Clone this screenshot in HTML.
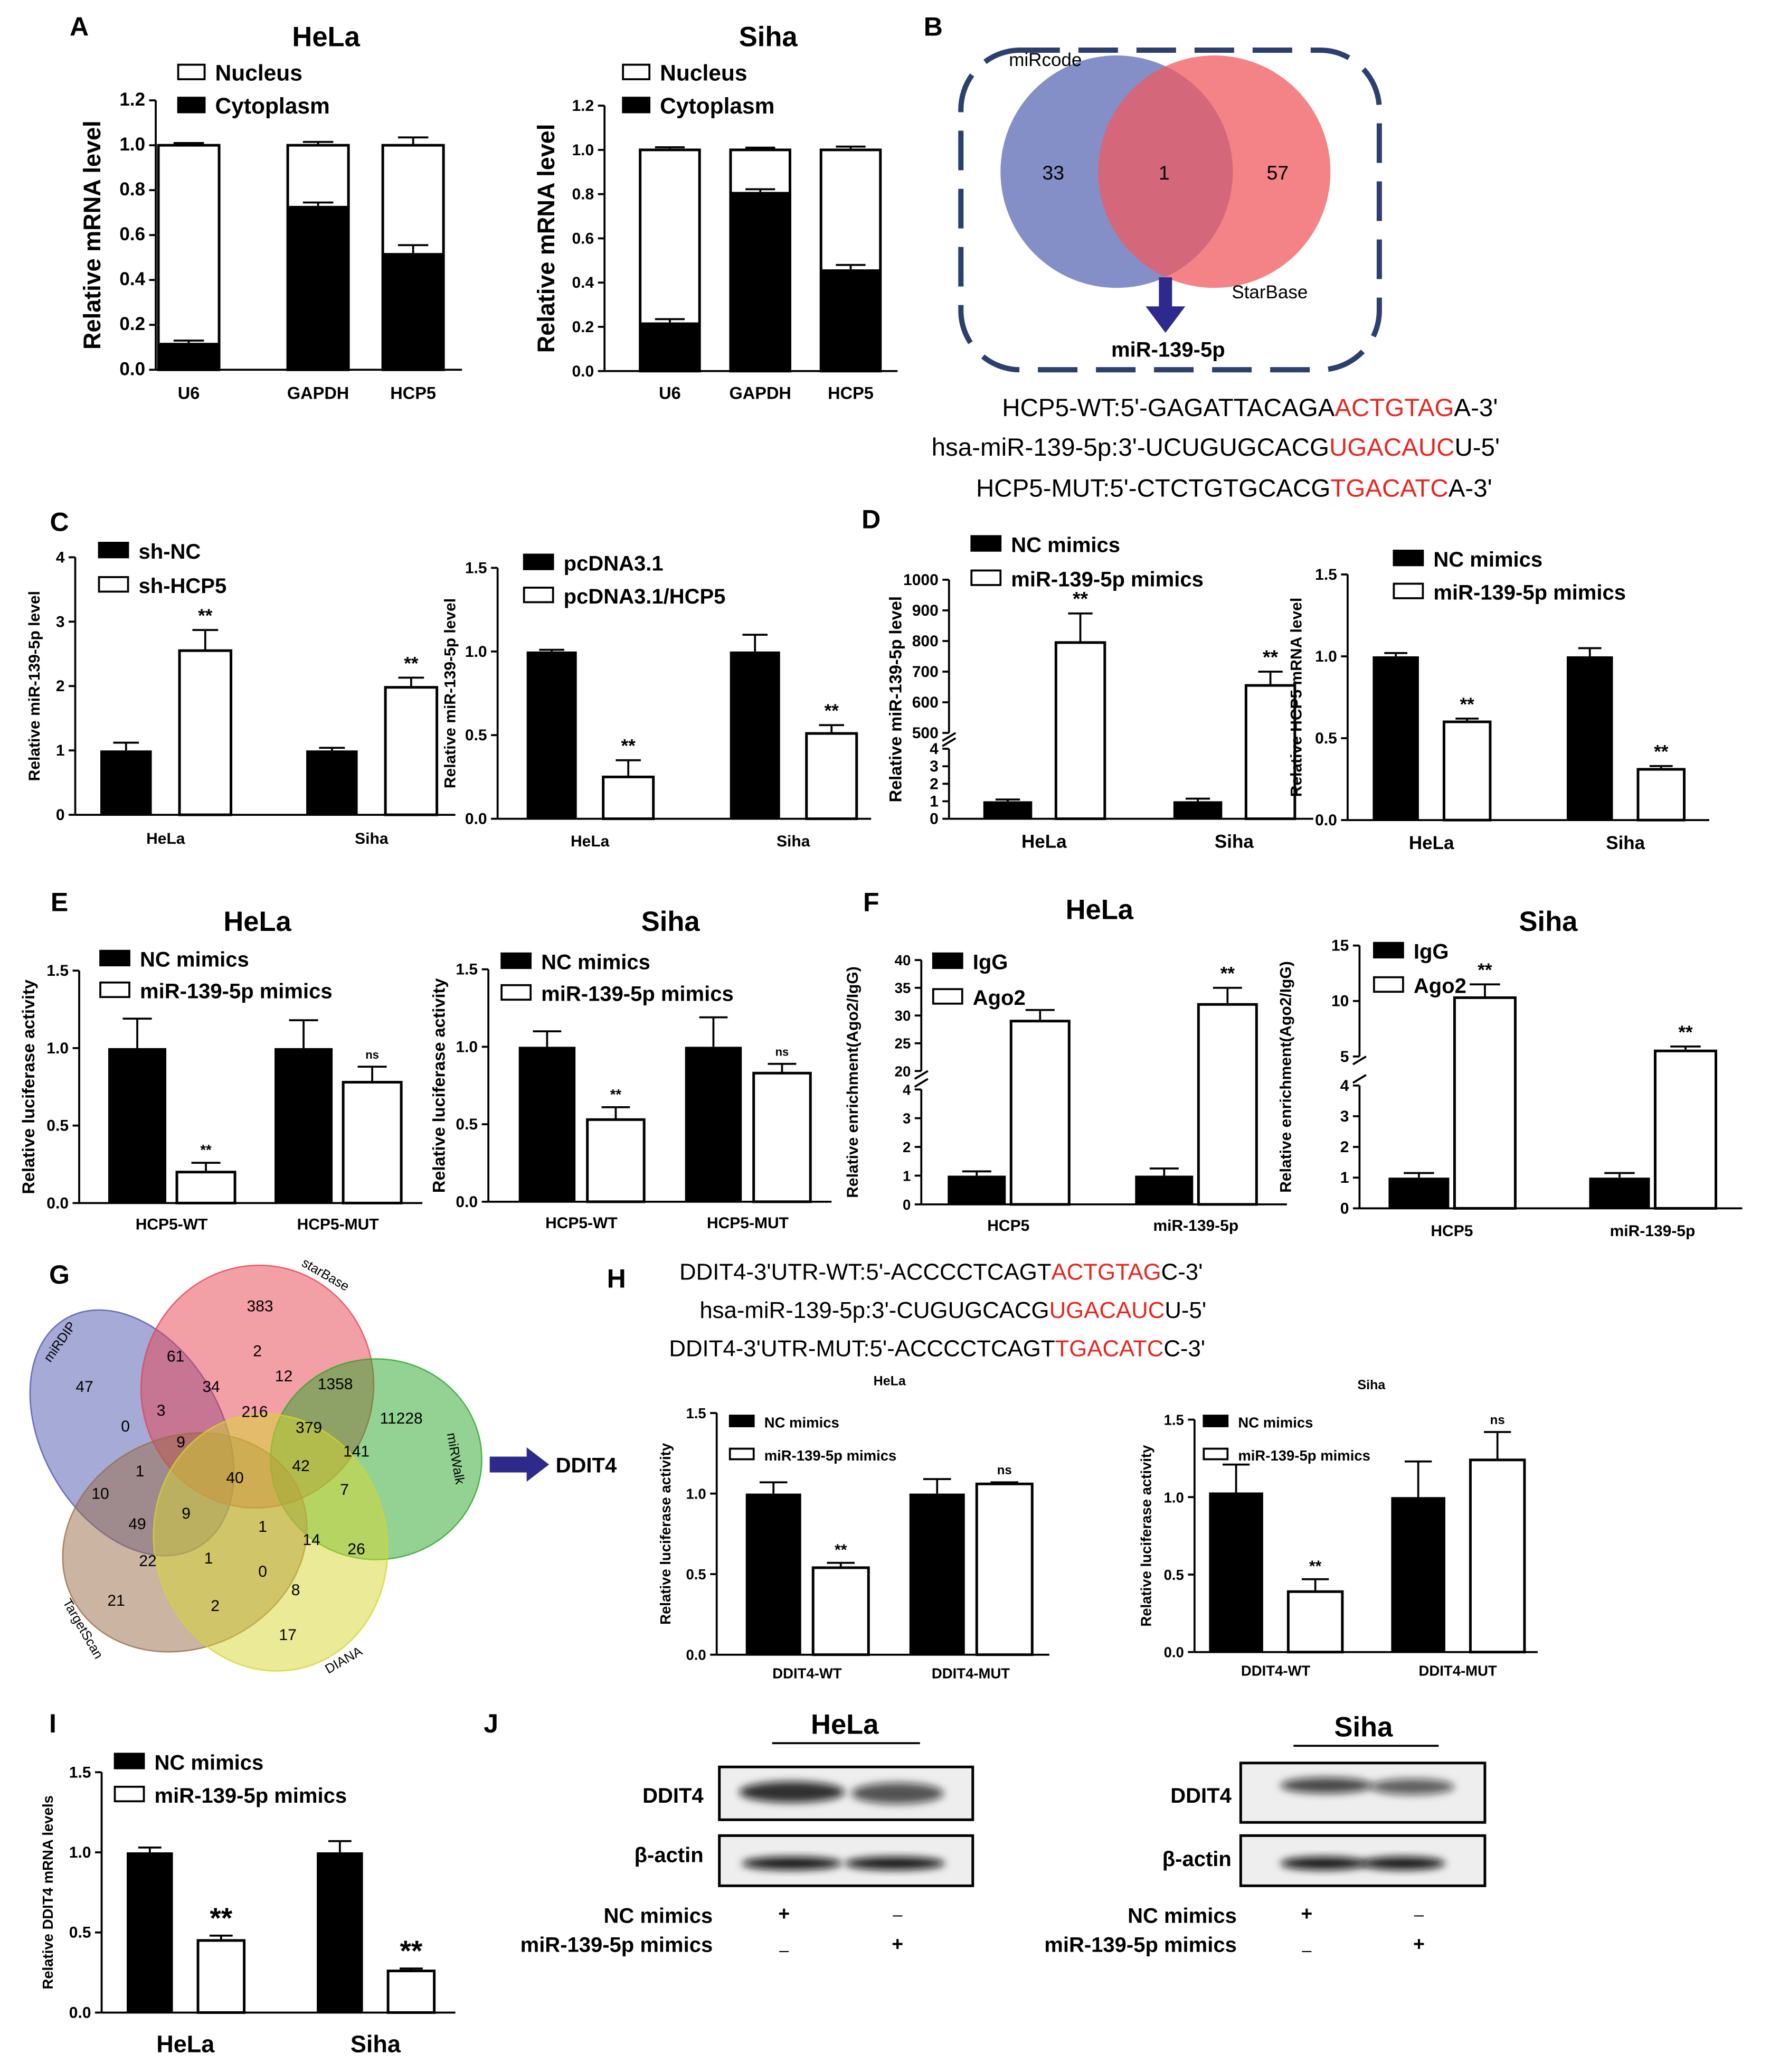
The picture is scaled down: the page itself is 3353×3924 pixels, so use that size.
<!DOCTYPE html>
<html><head><meta charset="utf-8"><style>
html,body{margin:0;padding:0;background:#fff;}
svg{display:block;font-family:"Liberation Sans",Arial,sans-serif;}
</style></head><body>
<svg id="fig" xmlns="http://www.w3.org/2000/svg" width="3353" height="3924" viewBox="0 0 1341 1569" preserveAspectRatio="none">
<defs><filter id="blur" x="-20%" y="-50%" width="140%" height="200%"><feGaussianBlur stdDeviation="3"/></filter></defs>
</svg>
<script>
// ---------- DATA ----------
const aCats=['U6','GAPDH','HCP5'];
const aHelaCyt=[0.12,0.73,0.52];const aHelaCytErr=[0.01,0.015,0.035];
const aHelaTot=[1,1,1];const aHelaTotErr=[0.01,0.015,0.035];
const aSihaCyt=[0.22,0.81,0.46];const aSihaCytErr=[0.015,0.012,0.02];
const aSihaTot=[1,1,1];const aSihaTotErr=[0.012,0.01,0.015];
const aTicks=[0,0.2,0.4,0.6,0.8,1.0,1.2];
const cellCats=['HeLa','Siha'];
const cLeftA=[1.0,1.0];const cLeftAErr=[0.12,0.04];const cLeftB=[2.55,1.98];const cLeftBErr=[0.32,0.15];
const cLeftTicks=[0,1,2,3,4];
const cRightA=[1.0,1.0];const cRightAErr=[0.01,0.1];const cRightB=[0.25,0.51];const cRightBErr=[0.1,0.05];
const ticks15=[0.0,0.5,1.0,1.5];
const dLeftA=[1,1];const dLeftAErr=[0.1,0.15];const dLeftB=[795,655];const dLeftBErr=[95,45];
const dLeftLow=[0,1,2,3,4];const dLeftHigh=[500,600,700,800,900,1000];
const dRightA=[1.0,1.0];const dRightAErr=[0.02,0.05];const dRightB=[0.6,0.31];const dRightBErr=[0.02,0.02];
const eCats=['HCP5-WT','HCP5-MUT'];
const eLeftA=[1.0,1.0];const eLeftAErr=[0.19,0.18];const eLeftB=[0.2,0.78];const eLeftBErr=[0.06,0.1];
const eRightA=[1.0,1.0];const eRightAErr=[0.1,0.19];const eRightB=[0.53,0.83];const eRightBErr=[0.08,0.06];
const fCats=['HCP5','miR-139-5p'];
const fLeftA=[1.0,1.0];const fLeftAErr=[0.15,0.25];const fLeftB=[29,32];const fLeftBErr=[2,3];
const fLeftLow=[0,1,2,3,4];const fLeftHigh=[20,25,30,35,40];
const fRightA=[1.0,1.0];const fRightAErr=[0.15,0.15];const fRightB=[10.3,5.5];const fRightBErr=[1.2,0.4];
const fRightLow=[0,1,2,3,4];const fRightHigh=[5,10,15];
const hCats=['DDIT4-WT','DDIT4-MUT'];
const hLeftA=[1.0,1.0];const hLeftAErr=[0.07,0.09];const hLeftB=[0.54,1.06];const hLeftBErr=[0.03,0.01];
const hRightA=[1.03,1.0];const hRightAErr=[0.18,0.23];const hRightB=[0.39,1.24];const hRightBErr=[0.08,0.18];
const iA=[1.0,1.0];const iAErr=[0.03,0.07];const iB=[0.45,0.26];const iBErr=[0.03,0.015];

// ---------- HELPERS ----------
const svg=document.getElementById('fig');
const NS='http://www.w3.org/2000/svg';
function mk(tag,attrs,name,parent){
  const e=document.createElementNS(NS,tag);
  for(const k in attrs)e.setAttribute(k,attrs[k]);
  
  
  (parent||svg).appendChild(e);return e;
}
function txt(x,y,s,size,opt,name){
  opt=opt||{};
  const t=mk('text',{x:x,y:y,'font-size':size,'font-weight':opt.w||'bold','text-anchor':opt.a||'middle',fill:opt.fill||'#000'},name||'label');
  if(opt.rot)t.setAttribute('transform','rotate(-90 '+x+' '+y+')');
  t.textContent=s;return t;
}
function seqLine(x,y,parts,size,name){
  const t=mk('text',{x:x,y:y,'font-size':size,'text-anchor':'middle'},name);
  parts.forEach(p=>{const s=document.createElementNS(NS,'tspan');if(p[1])s.setAttribute('fill','#e8261f');s.textContent=p[0];t.appendChild(s);});
}
function legend(x,y,gap,labels,size,bw,bh,name,fills){
  labels.forEach((l,i)=>{
    const f=fills?fills[i]:(i==0?'#000':'#fff');
    mk('rect',{x:x,y:y+i*gap-bh+1,width:bw,height:bh,fill:f,stroke:'#000','stroke-width':1.5},name+'-swatch-'+i);
    txt(x+bw+8,y+i*gap+2,l,size,{a:'start'},name+'-entry-'+i);
  });
}
function makeY(o){
  if(!o.brk)return v=>o.y0-v/o.max*(o.y0-o.yTop);
  const b=o.brk;
  return v=>v<=b.lowMax? o.y0-v/b.lowMax*(o.y0-b.lowTop) : b.hiBot-(v-b.hiMin)/(b.hiMax-b.hiMin)*(b.hiBot-o.yTop);
}
function errBar(cx,yv,ye,w,name){
  mk('line',{x1:cx,y1:yv,x2:cx,y2:ye,stroke:'#000','stroke-width':1.5},name);
  mk('line',{x1:cx-w,y1:ye,x2:cx+w,y2:ye,stroke:'#000','stroke-width':1.5},name+'-cap');
}
function axes(o,y){
  const g=o.name;
  if(o.brk){
    mk('line',{x1:o.ax,y1:o.y0,x2:o.ax,y2:o.brk.lowTop,stroke:'#000','stroke-width':1.5},g+'-y-axis-low');
    mk('line',{x1:o.ax,y1:o.brk.hiBot,x2:o.ax,y2:o.yTop,stroke:'#000','stroke-width':1.5},g+'-y-axis-high');
    mk('line',{x1:o.ax-5,y1:o.brk.lowTop-2,x2:o.ax+5,y2:o.brk.lowTop-8,stroke:'#000','stroke-width':1.5},g+'-break-mark');
    mk('line',{x1:o.ax-5,y1:o.brk.hiBot+6,x2:o.ax+5,y2:o.brk.hiBot,stroke:'#000','stroke-width':1.5},g+'-break-mark2');
    o.low.forEach(t=>{const yy=y(t);mk('line',{x1:o.ax-5,y1:yy,x2:o.ax,y2:yy,stroke:'#000','stroke-width':1.5},g+'-tick');txt(o.ax-8,yy+4,String(t),o.ts,{a:'end'},g+'-tick-label');});
    o.high.forEach(t=>{const yy=y(t);mk('line',{x1:o.ax-5,y1:yy,x2:o.ax,y2:yy,stroke:'#000','stroke-width':1.5},g+'-tick');txt(o.ax-8,yy+4,String(t),o.ts,{a:'end'},g+'-tick-label');});
  }else{
    mk('line',{x1:o.ax,y1:o.y0,x2:o.ax,y2:o.yTop,stroke:'#000','stroke-width':1.5},g+'-y-axis');
    o.ticks.forEach(t=>{const yy=y(t);mk('line',{x1:o.ax-5,y1:yy,x2:o.ax,y2:yy,stroke:'#000','stroke-width':1.5},g+'-tick');txt(o.ax-8,yy+4,o.fmt?t.toFixed(o.fmt):String(t),o.ts,{a:'end'},g+'-tick-label');});
  }
  mk('line',{x1:o.ax,y1:o.y0,x2:o.xEnd,y2:o.y0,stroke:'#000','stroke-width':1.5},g+'-x-axis');
  txt(o.ytx,(o.y0+o.yTop)/2,o.ytitle,o.yts,{rot:1},g+'-y-axis-title');
}
function grouped(o,cats,A,AE,B,BE,sig){
  const y=makeY(o);
  cats.forEach((c,i)=>{
    const x1=o.start+i*o.step, x2=x1+o.off;
    mk('rect',{x:x1,y:y(A[i]),width:o.bw,height:o.y0-y(A[i]),fill:'#000'},o.name+'-bar-'+c+'-control');
    errBar(x1+o.bw/2,y(A[i]),y(A[i]+AE[i]),o.bw/4,o.name+'-error-'+c+'-control');
    mk('rect',{x:x2,y:y(B[i]),width:o.bw,height:o.y0-y(B[i]),fill:'#fff',stroke:'#000','stroke-width':2},o.name+'-bar-'+c+'-treated');
    errBar(x2+o.bw/2,y(B[i]),y(B[i]+BE[i]),o.bw/4,o.name+'-error-'+c+'-treated');
    if(sig&&sig[i])txt(x2+o.bw/2,y(B[i]+BE[i])-6,sig[i],sig[i]=='ns'?o.ss*0.8:o.ss,{},o.name+'-significance');
    txt(x1+(o.off+o.bw)/2,o.y0+o.xlo,c,o.xs,{},o.name+'-x-label');
  });
  axes(o,y);
}
function stacked(o,cats,cyt,cytE,tot,totE){
  const y=makeY(o);
  cats.forEach((c,i)=>{
    const x=o.starts?o.starts[i]:o.start+i*o.step;
    mk('rect',{x:x,y:y(tot[i]),width:o.bw,height:o.y0-y(tot[i]),fill:'#fff',stroke:'#000','stroke-width':2},o.name+'-bar-'+c+'-nucleus');
    errBar(x+o.bw/2,y(tot[i]),y(tot[i]+totE[i]),o.bw/4,o.name+'-error-nucleus');
    mk('rect',{x:x,y:y(cyt[i]),width:o.bw,height:o.y0-y(cyt[i]),fill:'#000'},o.name+'-bar-'+c+'-cytoplasm');
    errBar(x+o.bw/2,y(cyt[i]),y(cyt[i]+cytE[i]),o.bw/4,o.name+'-error-cytoplasm');
    txt(x+o.bw/2,o.y0+o.xlo,c,o.xs,{},o.name+'-x-label');
  });
  axes(o,y);
}

// ---------- PANEL LETTERS ----------
[['A',60,27],['B',707,27],['C',45,402],['D',660,400],['E',45,690],['F',660,690],['G',45,972],['H',467,975],['I',40,1312],['J',372,1312]].forEach(p=>txt(p[1],p[2],p[0],20,{},'panel-letter-'+p[0]));

// ---------- A ----------
txt(247,35,'HeLa',21,{},'a-hela-title');
legend(135,59,25,['Nucleus','Cytoplasm'],17,20,11,'a-hela-legend',['#fff','#000']);
stacked({name:'a-hela',ax:118,y0:280,yTop:76,max:1.2,ticks:aTicks,fmt:1,ts:14,xEnd:350,starts:[120,218,290],bw:46,xlo:22,xs:13,ytx:76,ytitle:'Relative mRNA level',yts:18},aCats,aHelaCyt,aHelaCytErr,aHelaTot,aHelaTotErr);
txt(582,35,'Siha',21,{},'a-siha-title');
legend(472,59,25,['Nucleus','Cytoplasm'],17,20,11,'a-siha-legend',['#fff','#000']);
stacked({name:'a-siha',ax:458,y0:281,yTop:80,max:1.2,ticks:aTicks,fmt:1,ts:12,xEnd:680,start:485,step:68.5,bw:45,xlo:21,xs:13,ytx:420,ytitle:'Relative mRNA level',yts:18},aCats,aSihaCyt,aSihaCytErr,aSihaTot,aSihaTotErr);

// ---------- B ----------
mk('rect',{x:728,y:38,width:317,height:242,rx:45,fill:'none',stroke:'#2c3f6e','stroke-width':4,'stroke-dasharray':'30 14'},'b-dashed-box');
mk('circle',{cx:846,cy:130,r:88,fill:'#6e7bbd','fill-opacity':0.85},'b-venn-mircode');
mk('circle',{cx:920,cy:130,r:88,fill:'#ef5a5f','fill-opacity':0.75},'b-venn-starbase');
txt(792,50,'miRcode',14,{w:'normal'},'b-mircode-label');
txt(962,226,'StarBase',14,{w:'normal'},'b-starbase-label');
txt(798,136,'33',15,{w:'normal'},'b-count-mircode');
txt(882,136,'1',15,{w:'normal'},'b-count-both');
txt(968,136,'57',15,{w:'normal'},'b-count-starbase');
mk('rect',{x:878,y:210,width:10,height:24,fill:'#2e2a8c'},'b-arrow-shaft');
mk('polygon',{points:'868,232 898,232 883,252',fill:'#2e2a8c'},'b-arrow-head');
txt(885,270,'miR-139-5p',16,{},'b-mir-label');
seqLine(947,315,[["HCP5-WT:5'-GAGATTACAGA"],['ACTGTAG',1],["A-3'"]],19,'b-seq-wt');
seqLine(921,345,[["hsa-miR-139-5p:3'-UCUGUGCACG"],['UGACAUC',1],["U-5'"]],19,'b-seq-mir');
seqLine(935,376,[["HCP5-MUT:5'-CTCTGTGCACG"],['TGACATC',1],["A-3'"]],19,'b-seq-mut');

// ---------- C ----------
legend(75,421,26,['sh-NC','sh-HCP5'],16,22,11,'c-left-legend');
grouped({name:'c-left',ax:57,y0:617,yTop:422,max:4,ticks:cLeftTicks,ts:12,xEnd:345,start:76,step:156,bw:39,off:60,xlo:22,xs:12,ss:14,ytx:30,ytitle:'Relative miR-139-5p level',yts:12},cellCats,cLeftA,cLeftAErr,cLeftB,cLeftBErr,['**','**']);
legend(397,430,25,['pcDNA3.1','pcDNA3.1/HCP5'],16,22,11,'c-right-legend');
grouped({name:'c-right',ax:377,y0:620,yTop:430,max:1.5,ticks:ticks15,fmt:1,ts:12,xEnd:660,start:399,step:154,bw:38,off:58,xlo:21,xs:12,ss:14,ytx:345,ytitle:'Relative miR-139-5p level',yts:12},cellCats,cRightA,cRightAErr,cRightB,cRightBErr,['**','**']);

// ---------- D ----------
legend(736,416,26,['NC mimics','miR-139-5p mimics'],16,22,11,'d-left-legend');
grouped({name:'d-left',ax:719,y0:620,yTop:439,brk:{lowMax:4,lowTop:567,hiBot:555,hiMin:500,hiMax:1000},low:dLeftLow,high:dLeftHigh,ts:12,xEnd:995,start:745,step:144,bw:37,off:55,xlo:22,xs:14,ss:15,ytx:683,ytitle:'Relative miR-139-5p level',yts:13},cellCats,dLeftA,dLeftAErr,dLeftB,dLeftBErr,['**','**']);
legend(1056,427,25,['NC mimics','miR-139-5p mimics'],16,22,11,'d-right-legend');
grouped({name:'d-right',ax:1021,y0:621,yTop:435,max:1.5,ticks:ticks15,fmt:1,ts:12,xEnd:1295,start:1040,step:147,bw:35,off:54,xlo:22,xs:14,ss:14,ytx:986,ytitle:'Relative HCP5 mRNA level',yts:12},cellCats,dRightA,dRightAErr,dRightB,dRightBErr,['**','**']);

// ---------- E ----------
txt(195,705,'HeLa',21,{},'e-hela-title');
legend(76,730,24,['NC mimics','miR-139-5p mimics'],16,22,11,'e-left-legend');
grouped({name:'e-left',ax:60,y0:911,yTop:735,max:1.5,ticks:ticks15,fmt:1,ts:12,xEnd:320,start:82,step:126,bw:44,off:52,xlo:20,xs:12,ss:11,ytx:26,ytitle:'Relative luciferase activity',yts:13},eCats,eLeftA,eLeftAErr,eLeftB,eLeftBErr,['**','ns']);
txt(508,705,'Siha',21,{},'e-siha-title');
legend(380,732,24,['NC mimics','miR-139-5p mimics'],16,22,11,'e-right-legend');
grouped({name:'e-right',ax:370,y0:910,yTop:734,max:1.5,ticks:ticks15,fmt:1,ts:12,xEnd:630,start:393,step:126,bw:43,off:52,xlo:20,xs:12,ss:11,ytx:337,ytitle:'Relative luciferase activity',yts:13},eCats,eRightA,eRightAErr,eRightB,eRightBErr,['**','ns']);

// ---------- F ----------
txt(833,696,'HeLa',21,{},'f-hela-title');
legend(707,732,27,['IgG','Ago2'],16,22,11,'f-left-legend');
grouped({name:'f-left',ax:698,y0:912,yTop:727,brk:{lowMax:4,lowTop:825,hiBot:811,hiMin:20,hiMax:40},low:fLeftLow,high:fLeftHigh,ts:11,xEnd:975,start:718,step:142,bw:44,off:48,xlo:20,xs:12,ss:14,ytx:650,ytitle:'Relative enrichment(Ago2/IgG)',yts:12},fCats,fLeftA,fLeftAErr,fLeftB,fLeftBErr,[null,'**']);
txt(1173,705,'Siha',21,{},'f-siha-title');
legend(1041,724,26,['IgG','Ago2'],16,22,11,'f-right-legend');
grouped({name:'f-right',ax:1030,y0:915,yTop:716,brk:{lowMax:4,lowTop:822,hiBot:800,hiMin:5,hiMax:15},low:fRightLow,high:fRightHigh,ts:12,xEnd:1320,start:1052,step:152,bw:46,off:50,xlo:21,xs:12,ss:14,ytx:978,ytitle:'Relative  enrichment(Ago2/IgG)',yts:12},fCats,fRightA,fRightAErr,fRightB,fRightBErr,['**','**']);

// ---------- G (5-set Venn) ----------
const gv=[
 ['g-set-mirdip','#4b55b0',100,1085,68,100,-30],
 ['g-set-starbase','#e8404d',195,1050,88,92,10],
 ['g-set-mirwalk','#2aa52a',285,1105,80,76,0],
 ['g-set-targetscan','#9a6a45',140,1168,95,80,-25],
 ['g-set-diana','#d6d630',205,1168,88,98,-15]];
gv.forEach(v=>mk('ellipse',{cx:v[2],cy:v[3],rx:v[4],ry:v[5],fill:v[1],'fill-opacity':0.5,stroke:v[1],'stroke-opacity':0.8,transform:'rotate('+v[6]+' '+v[2]+' '+v[3]+')'},v[0]));
[['miRDIP',48,1018,-55],['starBase',245,968,30],['miRWalk',342,1105,80],['TargetScan',60,1235,60],['DIANA',262,1260,-30]].forEach(l=>{
 const t=txt(l[1],l[2],l[0],10,{w:'normal'},'g-set-label');t.setAttribute('transform','rotate('+l[3]+' '+l[1]+' '+l[2]+')');});
[['383',197,993],['61',133,1031],['2',195,1027],['12',215,1046],['1358',254,1052],['47',64,1054],['34',160,1054],['216',193,1073],['11228',304,1078],['0',95,1084],['3',122,1072],['379',234,1085],['9',137,1096],['141',270,1103],['1',106,1118],['40',178,1123],['42',228,1114],['7',261,1132],['10',76,1135],['49',104,1158],['9',141,1150],['1',199,1160],['14',236,1170],['26',270,1177],['22',112,1186],['1',158,1184],['0',199,1194],['8',224,1208],['21',88,1216],['2',163,1220],['17',218,1242]].forEach(n=>txt(n[1],n[2],n[0],12,{w:'normal'},'g-count'));
mk('rect',{x:371,y:1103,width:30,height:12,fill:'#2e2a8c'},'g-arrow-shaft');
mk('polygon',{points:'399,1096 416,1109 399,1122',fill:'#2e2a8c'},'g-arrow-head');
txt(421,1115,'DDIT4',16,{a:'start'},'g-ddit4-label');

// ---------- H ----------
seqLine(713,969,[["DDIT4-3'UTR-WT:5'-ACCCCTCAGT"],['ACTGTAG',1],["C-3'"]],17.5,'h-seq-wt');
seqLine(722,998,[["hsa-miR-139-5p:3'-CUGUGCACG"],['UGACAUC',1],["U-5'"]],17.5,'h-seq-mir');
seqLine(710,1027,[["DDIT4-3'UTR-MUT:5'-ACCCCTCAGT"],['TGACATC',1],["C-3'"]],17.5,'h-seq-mut');
txt(674,1049,'HeLa',10,{},'h-hela-title');
legend(553,1079,25,['NC mimics','miR-139-5p mimics'],11,18,8,'h-left-legend');
grouped({name:'h-left',ax:543,y0:1253,yTop:1070,max:1.5,ticks:ticks15,fmt:1,ts:11,xEnd:795,start:565,step:124,bw:42,off:51,xlo:18,xs:11,ss:12,ytx:508,ytitle:'Relative luciferase activity',yts:11},hCats,hLeftA,hLeftAErr,hLeftB,hLeftBErr,['**','ns']);
txt(1039,1052,'Siha',10,{},'h-siha-title');
legend(912,1079,25,['NC mimics','miR-139-5p mimics'],11,18,8,'h-right-legend');
grouped({name:'h-right',ax:905,y0:1251,yTop:1075,max:1.5,ticks:ticks15,fmt:1,ts:11,xEnd:1165,start:916,step:138,bw:41,off:60,xlo:18,xs:11,ss:12,ytx:872,ytitle:'Relative luciferase activity',yts:11},hCats,hRightA,hRightAErr,hRightB,hRightBErr,['**','ns']);

// ---------- I ----------
legend(87,1338,25,['NC mimics','miR-139-5p mimics'],16,22,11,'i-legend');
grouped({name:'i',ax:77,y0:1524,yTop:1342,max:1.5,ticks:ticks15,fmt:1,ts:12,xEnd:345,start:96,step:144,bw:35,off:54,xlo:30,xs:18,ss:22,ytx:40,ytitle:'Relative DDIT4 mRNA levels',yts:11},cellCats,iA,iAErr,iB,iBErr,['**','**']);

// ---------- J ----------
function blot(x,y,w,h,bands,name){
  mk('rect',{x:x,y:y,width:w,height:h,fill:'#eee',stroke:'#000','stroke-width':2},name+'-frame');
  bands.forEach((b,i)=>mk('ellipse',{cx:b[0],cy:b[1],rx:b[2],ry:b[3],fill:'#111','fill-opacity':b[4],filter:'url(#blur)'},name+'-band-'+i));
}
txt(640,1313,'HeLa',21,{},'j-hela-title');
mk('line',{x1:585,y1:1320,x2:697,y2:1320,stroke:'#000','stroke-width':1.5},'j-hela-underline');
txt(533,1365,'DDIT4',16,{a:'end'},'j-hela-ddit4-label');
blot(545,1338,192,40,[[600,1357,40,8,0.85],[680,1358,35,8,0.7]],'j-hela-ddit4-blot');
txt(533,1410,'β-actin',16,{a:'end'},'j-hela-actin-label');
blot(545,1390,192,38,[[600,1411,38,5,0.95],[678,1411,38,5,0.95]],'j-hela-actin-blot');
txt(1033,1315,'Siha',21,{},'j-siha-title');
mk('line',{x1:980,y1:1322,x2:1090,y2:1322,stroke:'#000','stroke-width':1.5},'j-siha-underline');
txt(933,1365,'DDIT4',16,{a:'end'},'j-siha-ddit4-label');
blot(940,1335,185,45,[[1005,1352,35,6,0.75],[1070,1353,32,6,0.65]],'j-siha-ddit4-blot');
txt(933,1413,'β-actin',16,{a:'end'},'j-siha-actin-label');
blot(940,1390,185,38,[[1003,1411,33,5,0.95],[1063,1411,32,5,0.95]],'j-siha-actin-blot');
txt(540,1456,'NC mimics',16,{a:'end'},'j-hela-nc-label');
txt(540,1478,'miR-139-5p mimics',16,{a:'end'},'j-hela-mir-label');
txt(594,1454,'+',15,{},'j-sign');txt(680,1454,'–',13,{w:'normal'},'j-sign');
txt(594,1481,'–',13,{w:'normal'},'j-sign');txt(680,1477,'+',15,{},'j-sign');
txt(937,1456,'NC mimics',16,{a:'end'},'j-siha-nc-label');
txt(937,1478,'miR-139-5p mimics',16,{a:'end'},'j-siha-mir-label');
txt(990,1454,'+',15,{},'j-sign');txt(1075,1454,'–',13,{w:'normal'},'j-sign');
txt(990,1481,'–',13,{w:'normal'},'j-sign');txt(1075,1477,'+',15,{},'j-sign');
</script>
</body></html>
